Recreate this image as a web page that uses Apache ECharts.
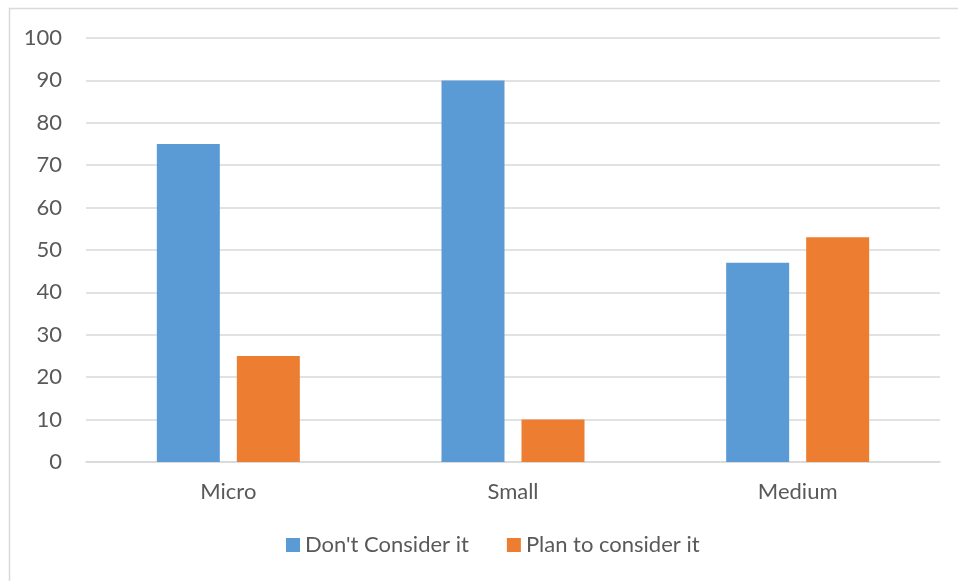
<!DOCTYPE html>
<html>
<head>
<meta charset="utf-8">
<script src="https://cdn.jsdelivr.net/npm/echarts@6/dist/echarts.min.js"></script>
<style>html,body{margin:0;padding:0;background:#fff}#c{width:958px;height:581px}</style>
</head>
<body>
<div id="c"></div>
<script>
const categories = ['Micro', 'Small', 'Medium'];
const dontConsider = [75, 90, 47];
const planToConsider = [25, 10, 53];
const seriesNames = ["Don't Consider it", 'Plan to consider it'];

const chart = echarts.init(document.getElementById('c'));
const txt = '#595959';
const font = 'Lato, "Open Sans", sans-serif';
chart.setOption({
  animation: false,
  backgroundColor: '#fff',
  graphic: [{
    type: 'rect', silent: true,
    shape: { x: 9.5, y: 8.5, width: 970, height: 590 },
    style: { fill: 'none', stroke: '#d9d9d9', lineWidth: 1.5 }
  }],
  grid: { left: 86, right: 18, top: 38, bottom: 119 },
  legend: {
    bottom: 25, left: 286, padding: 0,
    itemWidth: 14, itemHeight: 14, itemGap: 38,
    icon: 'rect',
    textStyle: { color: txt, fontSize: 22, fontFamily: font, padding: [0, 0, 0, 0] },
    data: seriesNames
  },
  xAxis: {
    type: 'category', data: categories,
    axisLine: { lineStyle: { color: '#d9d9d9', width: 1.5 } },
    axisTick: { show: false },
    axisLabel: { color: txt, fontSize: 22, fontFamily: font, margin: 19 }
  },
  yAxis: {
    type: 'value', min: 0, max: 100, interval: 10,
    axisLine: { show: false }, axisTick: { show: false },
    axisLabel: { color: txt, fontSize: 22, fontFamily: font, margin: 24 },
    splitLine: { lineStyle: { color: '#d9d9d9', width: 1.5 } }
  },
  series: [
    { name: seriesNames[0], type: 'bar', data: dontConsider, barWidth: 63, barGap: '27%',
      itemStyle: { color: '#5b9bd5' } },
    { name: seriesNames[1], type: 'bar', data: planToConsider, barWidth: 63,
      itemStyle: { color: '#ed7d31' } }
  ]
});
</script>
</body>
</html>
